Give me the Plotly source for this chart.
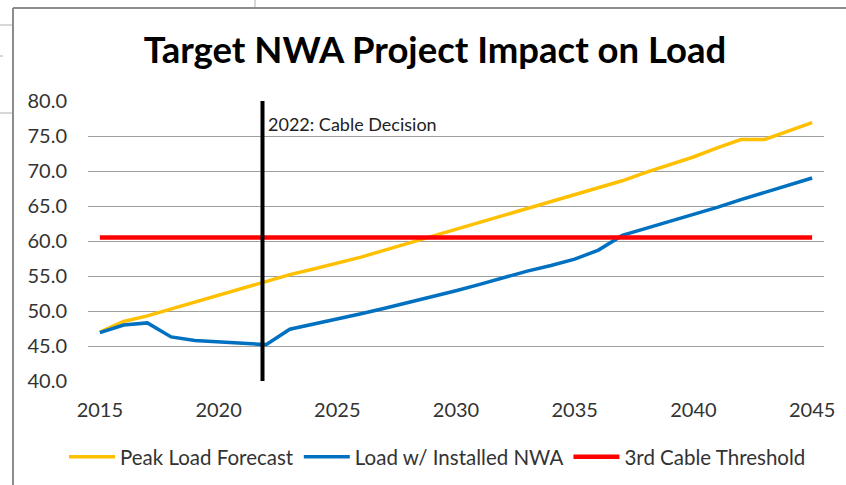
import plotly.graph_objects as go

years = list(range(2015, 2046))
peak_load = [47.0, 48.5, 49.3, 50.3, 51.3, 52.2, 53.2, 54.2, 55.2, 56.0,
             56.8, 57.7, 58.7, 59.7, 60.7, 61.6, 62.6, 63.6, 64.6, 65.6,
             66.6, 67.6, 68.6, 69.8, 70.9, 72.0, 73.3, 74.5, 74.5, 75.7, 76.9]
load_nwa = [46.9, 48.0, 48.3, 46.3, 45.8, 45.6, 45.4, 45.2, 47.4, 48.1,
            48.8, 49.6, 50.4, 51.2, 52.0, 52.9, 53.8, 54.8, 55.7, 56.5,
            57.4, 58.7, 60.8, 61.8, 62.8, 63.7, 64.8, 65.9, 66.9, 67.9, 69.0]
threshold = [60.5] * len(years)
decision_year = 2021.85
decision_label = "2022: Cable Decision"
y_ticks = [40, 45, 50, 55, 60, 65, 70, 75, 80]
x_ticks = [2015, 2020, 2025, 2030, 2035, 2040, 2045]

W, H = 846, 485
L, R, T, B = 88, 22, 101, 104
FONT = "Lato"

def px_x(p):
    return (p - L) / (W - L - R)

def px_y(p):
    return (H - B - p) / (H - B - T)

fig = go.Figure()
fig.add_trace(go.Scatter(x=years, y=peak_load, mode="lines", name="Peak Load Forecast",
                         line=dict(color="#FFC000", width=3.5)))
fig.add_trace(go.Scatter(x=years, y=load_nwa, mode="lines", name="Load w/ Installed NWA",
                         line=dict(color="#0070C0", width=3.5)))
fig.add_trace(go.Scatter(x=years, y=threshold, mode="lines", name="3rd Cable Threshold",
                         line=dict(color="#FF0000", width=4.5)))
fig.add_trace(go.Scatter(x=[decision_year, decision_year], y=[40, 80], mode="lines",
                         showlegend=False, hoverinfo="skip",
                         line=dict(color="#000000", width=4)))

fig.add_annotation(x=decision_year, y=76.7, xref="x", yref="y", text=decision_label,
                   showarrow=False, xanchor="left", xshift=3,
                   font=dict(family=FONT, size=18, color="#222"))

# chart-area border (left and top) and spreadsheet grid outside it
shapes = [
    dict(type="line", xref="paper", yref="paper", x0=px_x(13), x1=px_x(13), y0=px_y(8), y1=px_y(H + 5),
         line=dict(color="#8c8c8c", width=2)),
    dict(type="line", xref="paper", yref="paper", x0=px_x(13), x1=px_x(W + 5), y0=px_y(8), y1=px_y(8),
         line=dict(color="#8c8c8c", width=2)),
    dict(type="line", xref="paper", yref="paper", x0=px_x(255), x1=px_x(255), y0=px_y(-2), y1=px_y(7),
         line=dict(color="#b0b0b0", width=1)),
    dict(type="line", xref="paper", yref="paper", x0=px_x(-2), x1=px_x(12), y0=px_y(25), y1=px_y(25),
         line=dict(color="#b0b0b0", width=1)),
    dict(type="line", xref="paper", yref="paper", x0=px_x(-2), x1=px_x(12), y0=px_y(113), y1=px_y(113),
         line=dict(color="#b0b0b0", width=1)),
    dict(type="line", xref="paper", yref="paper", x0=px_x(-2), x1=px_x(3), y0=px_y(56), y1=px_y(56),
         line=dict(color="#b0b0b0", width=1)),
]

fig.update_layout(
    width=W, height=H,
    margin=dict(l=L, r=R, t=T, b=B, autoexpand=False),
    paper_bgcolor="white", plot_bgcolor="white",
    title=dict(text="<b>Target NWA Project Impact on Load</b>", x=435 / W, xref="container",
               xanchor="center", y=1 - 50 / H, yref="container", yanchor="middle",
               font=dict(family=FONT, size=36.5, color="#000")),
    xaxis=dict(range=[2014.5, 2045.5], tickvals=x_ticks, ticktext=[str(v) for v in x_ticks],
               showgrid=False, zeroline=False, showline=False, ticks="",
               tickfont=dict(family=FONT, size=20, color="#333"), ticklabelstandoff=15),
    yaxis=dict(range=[40, 80], tickvals=y_ticks, ticktext=[f"{v:.1f}" for v in y_ticks],
               showgrid=True, gridcolor="#a0a0a0", gridwidth=1.3, zeroline=False, showline=False,
               ticks="", tickfont=dict(family=FONT, size=20, color="#333"), ticklabelstandoff=20),
    legend=dict(orientation="h", x=px_x(64), xanchor="left", y=px_y(457), yanchor="middle",
                font=dict(family=FONT, size=20.5, color="#333"), itemwidth=46, tracegroupgap=0,
                bgcolor="rgba(0,0,0,0)"),
    shapes=shapes,
    showlegend=True,
)

fig.write_html("out.html", config={"displayModeBar": False},
               post_script="document.body.style.margin='0';document.body.style.overflow='hidden';")
